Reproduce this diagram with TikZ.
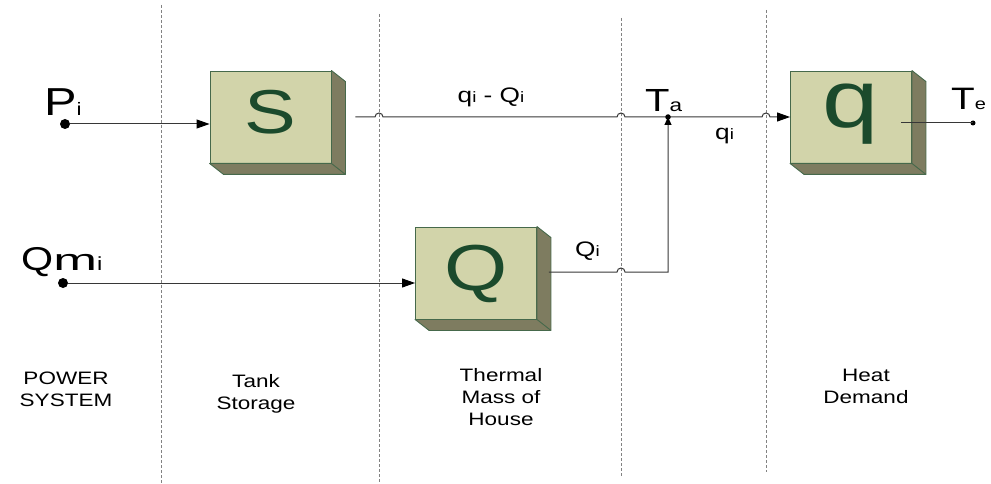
\documentclass[tikz,border=0pt]{standalone}
\usepackage{fontspec}
\setmainfont[FakeStretch=1.25]{Liberation Sans}
\usetikzlibrary{arrows.meta,calc}
\definecolor{boxfront}{RGB}{210,212,170}
\definecolor{boxside}{RGB}{126,124,96}
\definecolor{boxedge}{RGB}{70,105,75}
\definecolor{letter}{RGB}{27,74,44}
\definecolor{wire}{RGB}{55,55,55}
\definecolor{divider}{RGB}{130,130,130}
\newcommand\boxsides[1]{%
  \filldraw[fill=boxside, draw=boxedge, line width=0.9pt, line join=round]
    (#1.north east) -- ($(#1.north east)+(14,11)$) -- ($(#1.south east)+(14,11)$)
    -- ($(#1.south west)+(14,11)$) -- (#1.south west) -- (#1.south east) -- cycle;
  \draw[boxedge, line width=0.9pt] (#1.south east) -- ($(#1.south east)+(14,11)$);
}
\begin{document}
\begin{tikzpicture}[x=1pt,y=-1pt,
  blockbox/.style={draw=boxedge, line width=0.9pt, fill=boxfront, minimum width=121pt,
    minimum height=92pt, inner sep=0pt, text=letter, text depth=0pt},
  divline/.style={draw=divider, line width=0.6pt, dash pattern=on 3pt off 2pt},
  wireline/.style={draw=wire, line width=1pt},
  arr/.style={wireline, -{Triangle[length=13pt,width=9pt,black]}},
  bigdot/.style={circle, fill=black, inner sep=0pt, minimum size=10pt},
  smalldot/.style={circle, fill=black, inner sep=0pt, minimum size=5pt},
  lbl/.style={inner sep=0pt, anchor=base west},
  caption/.style={inner sep=0pt, anchor=north, align=center, font=\fontsize{18}{22}\selectfont},
]
\useasboundingbox (0,0) rectangle (991,484);

% dividers
\coordinate (d1t) at (161,5);   \coordinate (d1b) at (161,484);
\coordinate (d2t) at (379,14);  \coordinate (d2b) at (379,484);
\coordinate (d3t) at (621,18);  \coordinate (d3b) at (621,477);
\coordinate (d4t) at (766,10);  \coordinate (d4b) at (766,472);
\draw[divline] (d1t) -- (d1b);
\draw[divline] (d2t) -- (d2b);
\draw[divline] (d3t) -- (d3b);
\draw[divline] (d4t) -- (d4b);

% blocks
\node[blockbox, font=\fontsize{62}{62}\selectfont, text height=34pt] (S) at (270.5,117) {S};
\boxsides{S}
\node[blockbox, font=\fontsize{65}{65}\selectfont, text height=34pt] (Q) at (476,273) {Q};
\boxsides{Q}
\node[blockbox, font=\fontsize{81}{81}\selectfont, text height=22pt] (q) at (851,117) {q};
\boxsides{q}

% inputs
\node[bigdot] (Pi) at (65,124) {};
\draw[arr] (Pi) -- (S.west |- Pi);
\node[bigdot] (Qm) at (63,283) {};
\draw[arr] (Qm) -- (Q.west |- Qm);

% main line
\coordinate (Sout) at ($(S.east)+(24,0)$);
\coordinate (Ta) at (668,117);
\draw[arr] (Sout) -- ($(d2t |- Sout)+(-4,0)$) arc[start angle=180,end angle=0,radius=4pt]
  -- ($(d3t |- Sout)+(-4,0)$) arc[start angle=180,end angle=0,radius=4pt]
  -- ($(d4t |- Sout)+(-4,0)$) arc[start angle=180,end angle=0,radius=4pt]
  -- (q.west);

% Q output to junction
\coordinate (Qout) at ($(Q.east)+(12,-1)$);
\draw[wireline, -{Triangle[length=8pt,width=7pt,black]}] (Qout)
  -- ($(d3t |- Qout)+(-4,0)$) arc[start angle=180,end angle=0,radius=4pt]
  -- (Ta |- Qout) -- (Ta);
\node[smalldot, minimum size=5.5pt] (TaDot) at (Ta) {};

% q output
\node[smalldot] (Te) at (973,123) {};
\draw[wireline] ($(q.east |- Te)+(-11,0)$) -- (Te.center);

% labels
\node[lbl] (Pilbl) at (44,116) {\fontsize{39}{39}\selectfont P\fontsize{18}{18}\selectfont i};
\node[lbl] (Qmlbl) at (21,270) {\fontsize{33}{33}\selectfont Q\fontsize{30}{30}\selectfont\scalebox{1.4}[1]{m}\fontsize{19}{19}\selectfont i};
\node[inner sep=0pt, anchor=base] (dlbl) at (491,103) {\fontsize{21}{21}\selectfont q{\fontsize{15}{15}\selectfont i} - Q{\fontsize{15}{15}\selectfont i}};
\node[lbl] (Talbl) at (645,112) {\fontsize{32}{32}\selectfont T\fontsize{18}{18}\selectfont a};
\node[lbl] (qilbl) at (715,140) {\fontsize{21}{21}\selectfont q\fontsize{15}{15}\selectfont i};
\node[lbl] (Qilbl) at (575,256) {\fontsize{21}{21}\selectfont Q\fontsize{15}{15}\selectfont i};
\node[lbl] (Telbl) at (951,110) {\fontsize{31}{31}\selectfont T\fontsize{16}{16}\selectfont e};

% captions
\node[caption] (cap1) at (66,372) {POWER\\SYSTEM};
\node[caption] (cap2) at (256,374) {Tank\\Storage};
\node[caption] (cap3) at (501,368) {Thermal\\Mass of\\House};
\node[caption] (cap4) at (866,369) {Heat\\Demand};
\end{tikzpicture}
\end{document}
